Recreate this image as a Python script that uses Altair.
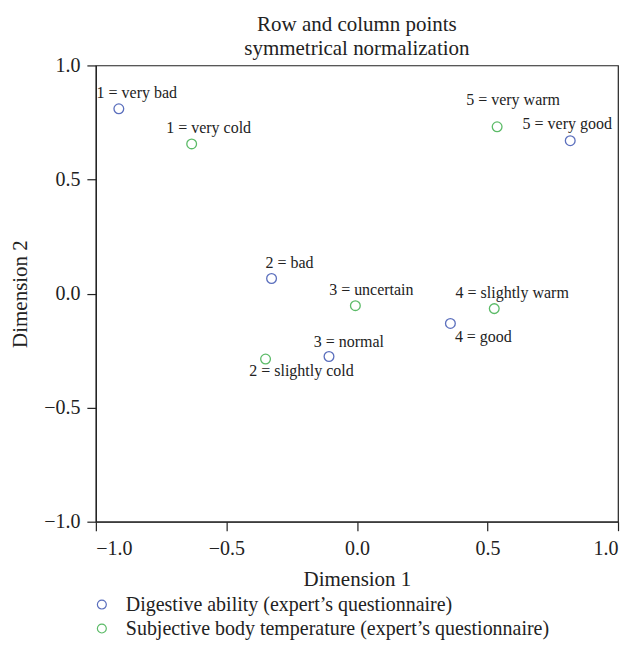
import altair as alt
import pandas as pd

# Data
dig_labels = ["1 = very bad", "2 = bad", "3 = normal", "4 = good", "5 = very good"]
dig_x = [-0.912, -0.327, -0.107, 0.358, 0.817]
dig_y = [0.810, 0.066, -0.276, -0.131, 0.670]

temp_labels = ["1 = very cold", "2 = slightly cold", "3 = uncertain", "4 = slightly warm", "5 = very warm"]
temp_x = [-0.633, -0.350, -0.006, 0.526, 0.537]
temp_y = [0.656, -0.287, -0.053, -0.066, 0.731]

series_names = ["Digestive ability (expert\u2019s questionnaire)",
                "Subjective body temperature (expert\u2019s questionnaire)"]
colors = ["#5b6fbd", "#5cbb68"]

rows = []
for l, x, y in zip(dig_labels, dig_x, dig_y):
    rows.append({"label": l, "x": x, "y": y, "series": series_names[0]})
for l, x, y in zip(temp_labels, temp_x, temp_y):
    rows.append({"label": l, "x": x, "y": y, "series": series_names[1]})
df = pd.DataFrame(rows)

# label placement (pixel offsets, layout only)
offsets = {
    "1 = very bad": (18, -16),
    "2 = bad": (18, -16),
    "3 = normal": (20, -15),
    "4 = good": (33, 14),
    "5 = very good": (-3, -17),
    "1 = very cold": (17, -16),
    "2 = slightly cold": (36, 12),
    "3 = uncertain": (16, -16),
    "4 = slightly warm": (18, -16),
    "5 = very warm": (16, -27),
}

FONT = "Liberation Serif"

xs = alt.Scale(domain=[-1, 1], nice=False, zero=False)
ys = alt.Scale(domain=[-1, 1], nice=False, zero=False)
ticks = [-1, -0.5, 0, 0.5, 1]

base = alt.Chart(df)

points = base.mark_point(shape="circle", filled=False, size=95, strokeWidth=1.3, opacity=1).encode(
    x=alt.X("x:Q", scale=xs, title="Dimension 1",
            axis=alt.Axis(values=ticks, format=".1f", grid=False, labelPadding=8, titlePadding=10)),
    y=alt.Y("y:Q", scale=ys, title="Dimension 2",
            axis=alt.Axis(values=ticks, format=".1f", grid=False, labelPadding=7, titlePadding=13)),
    color=alt.Color("series:N", scale=alt.Scale(domain=series_names, range=colors),
                    legend=alt.Legend(title=None, orient="none", legendX=-4, legendY=530,
                                      labelFont=FONT, labelFontSize=20, labelColor="#222",
                                      symbolType="circle", symbolFillColor="white",
                                      symbolSize=80, symbolStrokeWidth=1.2,
                                      rowPadding=4, labelOffset=14, labelLimit=560)),
)

label_layers = []
for lab, (dx, dy) in offsets.items():
    label_layers.append(
        base.transform_filter(alt.datum.label == lab).mark_text(
            font=FONT, fontSize=16, color="#222", dx=dx, dy=dy, align="center", baseline="middle"
        ).encode(x="x:Q", y="y:Q", text="label:N")
    )

chart = alt.layer(points, *label_layers).properties(
    width=523, height=457,
    title=alt.TitleParams(["Row and column points", "symmetrical normalization"],
                          font=FONT, fontSize=21, fontWeight="normal", color="#222",
                          anchor="middle", lineHeight=24, offset=2, dy=6),
    autosize=alt.AutoSizeParams(type="none"),
    padding={"left": 88, "top": 57, "right": 4, "bottom": 130},
).configure_view(stroke="#222", strokeWidth=1.2).configure_axis(
    labelFont=FONT, labelFontSize=20, labelColor="#222",
    titleFont=FONT, titleFontSize=21, titleFontWeight="normal", titleColor="#222",
    domainColor="#222", tickColor="#222", tickSize=9, domainWidth=1.2, tickWidth=1.2,
)

chart.save("out.html", embed_options={"renderer": "svg", "actions": False})
